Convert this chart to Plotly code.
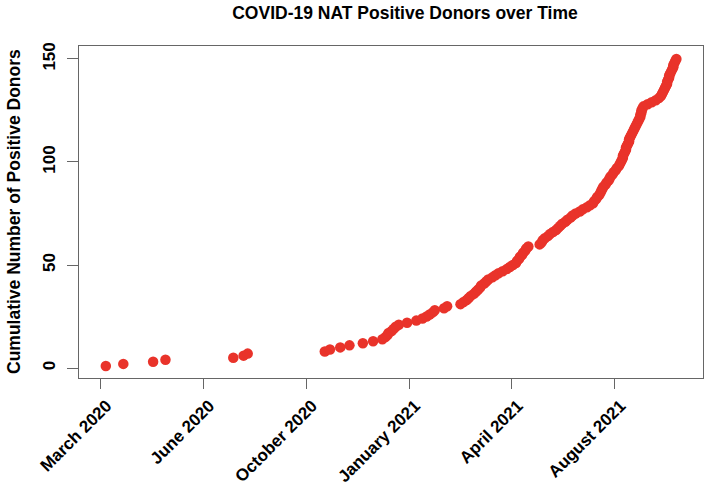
import numpy as np
import pandas as pd
import plotly.graph_objects as go

# Days after 2020-03-20 on which each NAT-positive donor was detected
base_date = "2020-03-20"
donor_days = [
    5, 22, 51, 63, 129, 139, 143, 218, 223, 233,
    242, 255, 265, 274, 277, 279, 280, 283, 285, 287,
    290, 298, 307, 313, 317, 320, 323, 325, 334, 337,
    350, 353, 356, 358, 360, 363, 365, 367, 369, 370,
    373, 375, 377, 381, 384, 387, 391, 395, 398, 401,
    404, 405, 407, 408, 410, 411, 413, 414, 416, 427,
    429, 430, 432, 435, 437, 440, 443, 445, 447, 449,
    452, 454, 457, 459, 462, 466, 469, 473, 476, 479,
    480, 482, 483, 485, 486, 487, 488, 489, 491, 492,
    494, 495, 496, 498, 499, 501, 502, 504, 505, 506,
    507, 508, 508, 509, 510, 511, 511, 512, 513, 514,
    514, 515, 516, 517, 518, 519, 520, 521, 522, 523,
    524, 525, 525, 526, 526, 527, 528, 532, 536, 540,
    543, 545, 546, 547, 548, 549, 550, 551, 551, 552,
    553, 553, 554, 555, 556, 557, 557, 558, 559, 560,
]

# Axis ticks
tick_dates = ["2020-03-20", "2020-06-28", "2020-10-06", "2021-01-14", "2021-04-24", "2021-08-02"]
tick_labels = ["March 2020", "June 2020", "October 2020", "January 2021", "April 2021", "August 2021"]
y_ticks = [0, 50, 100, 150]

base = pd.Timestamp(base_date)
dates = base + pd.to_timedelta(donor_days, unit="D")
cumulative_donors = np.arange(1, len(donor_days) + 1)

FONT = "Liberation Sans, Arial, Helvetica, sans-serif"
FS = 17

fig = go.Figure()
fig.add_trace(go.Scatter(
    x=dates, y=cumulative_donors, mode="markers",
    marker=dict(symbol="circle", size=10.5, color="#E9332A", line=dict(width=0)),
    showlegend=False,
))

x_left = base + pd.Timedelta(days=-21.1)
x_right = base + pd.Timedelta(days=585.9)

axis_line = "#666666"
fig.update_layout(
    width=709, height=486,
    margin=dict(l=79, r=6, t=46, b=108),
    paper_bgcolor="white", plot_bgcolor="white",
    font=dict(family=FONT, size=FS, color="black", weight="bold"),
    title=dict(text="COVID-19 NAT Positive Donors over Time", x=(405 - 79) / 624, xref="paper",
               y=1 - 13 / 486, yref="container", xanchor="center", yanchor="middle",
               font=dict(family=FONT, size=17.5, color="black", weight="bold")),
    xaxis=dict(
        type="date", range=[x_left, x_right], automargin=False,
        tickvals=pd.to_datetime(tick_dates), ticktext=tick_labels,
        tickangle=-45, ticks="outside", ticklen=10, tickwidth=1.3, tickcolor=axis_line,
        showline=True, linecolor=axis_line, linewidth=1.3, mirror=True,
        showgrid=False, zeroline=False, ticklabelshift=6,
        tickfont=dict(family=FONT, size=FS, color="black", weight="bold"),
    ),
    yaxis=dict(
        range=[-4.85, 156.3], tickvals=y_ticks, automargin=False,
        tickangle=-90, ticks="outside", ticklen=11, tickwidth=1.3, tickcolor=axis_line,
        showline=True, linecolor=axis_line, linewidth=1.3, mirror=True,
        showgrid=False, zeroline=False, ticklabelstandoff=5,
        tickfont=dict(family=FONT, size=FS, color="black", weight="bold"),
    ),
    annotations=[dict(
        text="Cumulative Number of Positive Donors", xref="paper", yref="paper",
        x=(14 - 79) / 624, y=0.5, xanchor="center", yanchor="middle",
        textangle=-90, showarrow=False,
        font=dict(family=FONT, size=17.5, color="black", weight="bold"),
    )],
)

fig.write_html(
    "out.html",
    config={"displayModeBar": False},
    post_script="document.body.style.margin='0';document.body.style.overflow='hidden';",
)
